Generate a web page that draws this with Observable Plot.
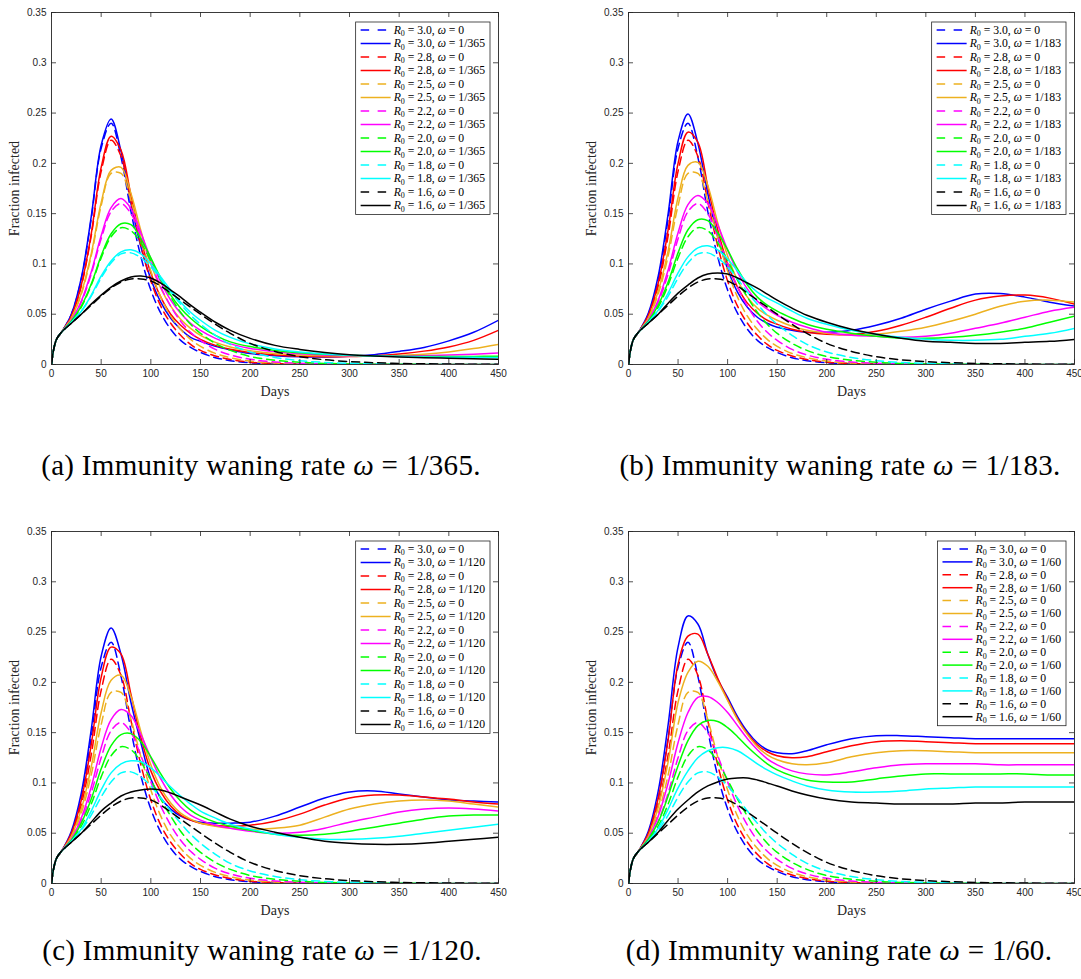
<!DOCTYPE html>
<html><head><meta charset="utf-8">
<script src="https://cdn.jsdelivr.net/npm/d3@7"></script>
<script src="https://cdn.jsdelivr.net/npm/@observablehq/plot@0.6"></script>
<style>
body{margin:0;background:#fff;}
#root{position:relative;width:1081px;height:979px;overflow:hidden;background:#fff;}
.panel{position:absolute;overflow:visible;}
.cap{position:absolute;font-family:"Liberation Serif",serif;font-size:29px;letter-spacing:0.3px;color:#000;white-space:nowrap;transform:translate(-50%,-50%);}
</style></head><body><div id="root"></div>
<script>
// ---- data ----
const days = [0,2,5,10,20,30,40,50,60,70,80,90,100,110,120,130,140,150,165,180,200,225,250,275,300,325,350,375,400,425,450];
const r0Labels = ["3.0","2.8","2.5","2.2","2.0","1.8","1.6"];
const colors = ["#0000ff","#ff0000","#edb120","#ff00ff","#00ff00","#00ffff","#000000"];
const waningLabels = ["1/365","1/183","1/120","1/60"];
const panelTags = ["(a)","(b)","(c)","(d)"];
const xTicks = [0,50,100,150,200,250,300,350,400,450];
const xTickLabels = ["0","50","100","150","200","250","300","350","400","450"];
const yTicks = [0,0.05,0.1,0.15,0.2,0.25,0.3,0.35];
const yTickLabels = ["0","0.05","0.1","0.15","0.2","0.25","0.3","0.35"];

// omega = 0 (dashed), identical in every panel
const none30 = [0,.014,.025,.032,.050,.085,.145,.215,.240,.206,.152,.107,.074,.051,.035,.024,.017,.012,.0068,.0038,.0017,.0007,.0003,.0001,0,0,0,0,0,0,0];
const none28 = [0,.014,.025,.032,.048,.078,.128,.192,.223,.207,.162,.118,.083,.058,.041,.029,.020,.014,.0085,.005,.0023,.001,.0004,.0002,.0001,0,0,0,0,0,0];
const none25 = [0,.014,.025,.032,.046,.070,.108,.158,.190,.190,.163,.126,.093,.067,.048,.035,.025,.018,.011,.0068,.0034,.0015,.0007,.0003,.0001,.0001,0,0,0,0,0];
const none22 = [0,.014,.025,.032,.044,.062,.090,.125,.152,.160,.150,.127,.101,.077,.058,.043,.032,.024,.015,.0095,.0052,.0025,.0012,.0006,.0003,.0001,.0001,0,0,0,0];
const none20 = [0,.014,.025,.032,.043,.057,.079,.106,.127,.136,.133,.121,.103,.084,.067,.052,.040,.031,.021,.014,.008,.0042,.0022,.0011,.0006,.0003,.0002,.0001,0,0,0];
const none18 = [0,.014,.025,.032,.042,.053,.068,.086,.101,.110,.111,.106,.097,.085,.072,.060,.049,.040,.029,.020,.0125,.007,.0038,.0021,.0012,.0007,.0004,.0002,.0001,0,0];
const none16 = [0,.014,.025,.032,.041,.050,.059,.068,.076,.082,.085,.085,.083,.078,.071,.064,.057,.050,.040,.031,.021,.013,.0078,.0047,.0029,.0018,.0011,.0007,.0005,.0003,.0002];

// omega = 1/365
const w365_30 = [0,.014,.025,.032,.050,.086,.147,.218,.244,.212,.160,.117,.085,.062,.046,.035,.027,.023,.018,.0145,.011,.0088,.0076,.0075,.0083,.0098,.013,.017,.0235,.032,.044];
const w365_28 = [0,.014,.025,.032,.048,.079,.130,.196,.227,.213,.168,.124,.091,.067,.050,.039,.031,.025,.019,.0152,.012,.0095,.0083,.0078,.008,.0088,.0105,.0133,.0175,.024,.034];
const w365_25 = [0,.014,.025,.032,.046,.071,.110,.161,.193,.196,.170,.133,.100,.076,.058,.045,.036,.029,.022,.0175,.0138,.011,.0094,.0086,.0082,.0083,.009,.0102,.0125,.0158,.020];
const w365_22 = [0,.014,.025,.032,.044,.063,.092,.128,.156,.165,.155,.131,.105,.082,.064,.051,.041,.034,.026,.0205,.016,.0128,.0107,.0095,.0088,.0085,.0085,.0088,.0095,.0103,.0115];
const w365_20 = [0,.014,.025,.032,.043,.058,.080,.108,.130,.140,.139,.125,.106,.086,.069,.056,.046,.038,.029,.0225,.0178,.014,.0116,.0101,.0092,.0085,.0081,.0079,.0079,.008,.0083];
const w365_18 = [0,.014,.025,.032,.042,.053,.069,.088,.103,.112,.114,.110,.100,.087,.074,.062,.052,.044,.034,.027,.0205,.0155,.0125,.0105,.0093,.0085,.0079,.0075,.0072,.0071,.007];
const w365_16 = [0,.014,.025,.032,.041,.050,.060,.069,.077,.083,.087,.088,.086,.081,.074,.067,.059,.052,.042,.034,.026,.019,.015,.012,.0098,.0085,.0075,.0068,.0062,.0057,.0053];

// omega = 1/183
const w183_30 = [0,.014,.025,.032,.051,.088,.150,.222,.249,.220,.170,.127,.095,.072,.057,.047,.041,.037,.034,.032,.032,.034,.039,.046,.055,.063,.070,.0705,.067,.062,.058];
const w183_28 = [0,.014,.025,.032,.049,.081,.134,.200,.231,.221,.177,.134,.100,.077,.061,.051,.044,.040,.035,.032,.030,.030,.033,.039,.047,.056,.064,.068,.069,.066,.060];
const w183_25 = [0,.014,.025,.032,.046,.073,.113,.166,.198,.201,.178,.141,.108,.084,.067,.056,.049,.044,.038,.034,.031,.029,.030,.033,.037,.043,.050,.058,.063,.064,.062];
const w183_22 = [0,.014,.025,.032,.044,.064,.094,.131,.159,.168,.160,.139,.114,.092,.075,.063,.055,.049,.042,.037,.032,.029,.028,.027,.028,.031,.036,.041,.047,.053,.057];
const w183_20 = [0,.014,.025,.032,.043,.059,.082,.111,.134,.144,.143,.131,.114,.095,.079,.067,.059,.053,.046,.040,.035,.031,.028,.026,.026,.027,.029,.032,.036,.042,.048];
const w183_18 = [0,.014,.025,.032,.042,.054,.071,.091,.107,.116,.118,.114,.105,.093,.081,.072,.066,.061,.053,.046,.040,.034,.030,.027,.025,.024,.024,.025,.028,.031,.036];
const w183_16 = [0,.014,.025,.032,.041,.050,.061,.071,.079,.086,.090,.091,.090,.086,.081,.076,.070,.064,.056,.049,.042,.035,.030,.026,.023,.022,.021,.021,.022,.023,.025];

// omega = 1/120
const w120_30 = [0,.014,.025,.032,.052,.090,.153,.226,.254,.228,.180,.140,.104,.085,.074,.067,.063,.061,.060,.060,.061,.067,.076,.085,.091,.092,.089,.086,.083,.082,.081];
const w120_28 = [0,.014,.025,.032,.050,.083,.138,.205,.235,.228,.188,.145,.112,.091,.077,.068,.063,.060,.058,.057,.058,.062,.069,.078,.085,.088,.088,.086,.084,.081,.079];
const w120_25 = [0,.014,.025,.032,.047,.074,.116,.170,.202,.207,.186,.151,.118,.095,.080,.070,.064,.060,.057,.055,.054,.055,.058,.066,.074,.079,.082,.083,.082,.079,.076];
const w120_22 = [0,.014,.025,.032,.044,.065,.096,.135,.163,.173,.167,.148,.125,.104,.088,.076,.068,.063,.058,.055,.052,.050,.051,.055,.061,.066,.071,.074,.075,.074,.072];
const w120_20 = [0,.014,.025,.032,.043,.060,.084,.114,.137,.148,.149,.141,.126,.109,.094,.082,.073,.067,.061,.057,.053,.049,.048,.049,.052,.056,.060,.064,.067,.068,.068];
const w120_18 = [0,.014,.025,.032,.042,.054,.072,.093,.110,.119,.122,.121,.115,.106,.096,.087,.079,.072,.065,.059,.054,.049,.046,.044,.044,.045,.047,.050,.053,.056,.059];
const w120_16 = [0,.014,.025,.032,.041,.050,.061,.072,.080,.087,.091,.093,.094,.093,.090,.086,.082,.078,.071,.064,.057,.051,.046,.042,.040,.039,.039,.040,.042,.044,.046];

// omega = 1/60
const w60_30 = [0,.014,.025,.032,.052,.092,.158,.235,.266,.258,.228,.203,.185,.166,.151,.140,.133,.130,.129,.132,.138,.144,.147,.147,.146,.145,.144,.144,.144,.144,.144];
const w60_28 = [0,.014,.025,.032,.050,.085,.143,.218,.246,.248,.228,.204,.183,.164,.149,.138,.131,.127,.125,.126,.131,.137,.141,.142,.141,.140,.139,.139,.139,.139,.139];
const w60_25 = [0,.014,.025,.032,.047,.076,.121,.180,.210,.221,.216,.201,.182,.163,.148,.136,.128,.123,.119,.118,.120,.126,.130,.132,.132,.131,.130,.130,.130,.130,.130];
const w60_22 = [0,.014,.025,.032,.045,.067,.100,.140,.170,.185,.186,.180,.170,.157,.144,.133,.124,.118,.112,.109,.108,.111,.115,.118,.119,.119,.119,.118,.118,.118,.118];
const w60_20 = [0,.014,.025,.032,.044,.061,.087,.117,.142,.157,.162,.161,.155,.146,.136,.127,.119,.113,.107,.103,.101,.101,.104,.107,.109,.109,.109,.109,.109,.108,.108];
const w60_18 = [0,.014,.025,.032,.042,.055,.074,.095,.112,.125,.132,.135,.135,.132,.126,.119,.113,.108,.102,.097,.093,.091,.091,.092,.094,.095,.096,.096,.096,.096,.096];
const w60_16 = [0,.014,.025,.032,.041,.051,.063,.074,.083,.091,.097,.101,.104,.105,.105,.103,.100,.097,.092,.088,.084,.081,.080,.079,.079,.079,.080,.080,.081,.081,.081];

const noWaning = [none30, none28, none25, none22, none20, none18, none16];
const waning = [
  [w365_30, w365_28, w365_25, w365_22, w365_20, w365_18, w365_16],
  [w183_30, w183_28, w183_25, w183_22, w183_20, w183_18, w183_16],
  [w120_30, w120_28, w120_25, w120_22, w120_20, w120_18, w120_16],
  [w60_30, w60_28, w60_25, w60_22, w60_20, w60_18, w60_16]
];

// ---- layout ----
const geom = [
  {left:0,   top:0,   width:540, height:400, mL:51, mR:42, mT:12, mB:36, capX:261, capY:465, rowH:13.5},
  {left:540, top:0,   width:541, height:400, mL:88, mR:7,  mT:12, mB:36, capX:840, capY:465, rowH:13.5},
  {left:0,   top:519, width:540, height:400, mL:51, mR:42, mT:12, mB:36, capX:262, capY:950, rowH:13.5},
  {left:540, top:519, width:541, height:400, mL:88, mR:7,  mT:12, mB:36, capX:839, capY:950, rowH:12.9}
];
const axisColor = "#262626";
const sans = "Liberation Sans, Arial, sans-serif";
const serif = "Liberation Serif, Times New Roman, serif";
const dash = "8,5";
const legendDash = "8.5,8.5";
const root = document.getElementById("root");

function makePanel(p) {
  const g = geom[p];
  const pw = g.width - g.mL - g.mR, ph = g.height - g.mT - g.mB;
  const marks = [];
  for (let i = 0; i < 7; i++) {
    marks.push(Plot.line(noWaning[i], {x: (d, j) => days[j], y: d => d, stroke: colors[i], strokeWidth: 1.5, strokeDasharray: dash, curve: "catmull-rom", clip: true}));
    marks.push(Plot.line(waning[p][i], {x: (d, j) => days[j], y: d => d, stroke: colors[i], strokeWidth: 1.5, curve: "catmull-rom", clip: true}));
  }
  marks.push(Plot.tickX(xTicks, {x: d => d, insetTop: ph - 5, stroke: axisColor, strokeWidth: 0.8}));
  marks.push(Plot.tickX(xTicks, {x: d => d, insetBottom: ph - 5, stroke: axisColor, strokeWidth: 0.8}));
  marks.push(Plot.tickY(yTicks, {y: d => d, insetRight: pw - 5, stroke: axisColor, strokeWidth: 0.8}));
  marks.push(Plot.tickY(yTicks, {y: d => d, insetLeft: pw - 5, stroke: axisColor, strokeWidth: 0.8}));
  marks.push(Plot.frame({stroke: axisColor, strokeWidth: 0.9}));
  marks.push(Plot.axisX(xTicks, {tickSize: 0, tickPadding: 5, fontSize: 10, fontFamily: sans, color: axisColor, label: null, tickFormat: (d, i) => xTickLabels[i]}));
  marks.push(Plot.axisY(yTicks, {tickSize: 0, tickPadding: 5, fontSize: 10, fontFamily: sans, color: axisColor, label: null, tickFormat: (d, i) => yTickLabels[i]}));
  marks.push(Plot.text(["Days"], {frameAnchor: "bottom", lineAnchor: "middle", textAnchor: "middle", dy: 27, fontFamily: serif, fontSize: 14, fill: axisColor}));
  marks.push(Plot.text(["Fraction infected"], {frameAnchor: "left", textAnchor: "middle", lineAnchor: "middle", dx: -37, rotate: -90, fontFamily: serif, fontSize: 14, fill: axisColor}));
  const svg = Plot.plot({
    width: g.width, height: g.height,
    marginLeft: g.mL, marginRight: g.mR, marginTop: g.mT, marginBottom: g.mB,
    x: {domain: [0, 450]},
    y: {domain: [0, 0.35]},
    style: {background: "transparent", overflow: "visible"},
    marks
  });
  svg.classList.add("panel");
  svg.style.left = g.left + "px";
  svg.style.top = g.top + "px";
  root.appendChild(svg);
  addLegend(svg, p);

  const cap = document.createElement("div");
  cap.className = "cap";
  cap.style.left = g.capX + "px";
  cap.style.top = g.capY + "px";
  cap.innerHTML = panelTags[p] + " Immunity waning rate <i>ω</i> = " + waningLabels[p] + ".";
  root.appendChild(cap);
}

function addLegend(svg, p) {
  const g = geom[p];
  const leg = d3.select(svg).append("g");
  const box = leg.append("rect").attr("fill", "#fff").attr("stroke", axisColor).attr("stroke-width", 0.8);
  const items = [];
  r0Labels.forEach((r, i) => {
    items.push({r, w: "0", color: colors[i], dashed: true});
    items.push({r, w: waningLabels[p], color: colors[i], dashed: false});
  });
  let maxW = 0;
  items.forEach((it, k) => {
    const y = 8 + k * g.rowH;
    leg.append("line").attr("x1", 5).attr("x2", 35).attr("y1", y).attr("y2", y)
      .attr("stroke", it.color).attr("stroke-width", 1.5)
      .attr("stroke-dasharray", it.dashed ? legendDash : null);
    const t = leg.append("text").attr("x", 38).attr("y", y).attr("dy", "0.33em")
      .attr("text-anchor", "start")
      .attr("font-family", serif).attr("font-size", 11.7).attr("fill", "#000");
    t.append("tspan").attr("font-style", "italic").text("R");
    t.append("tspan").attr("font-size", 8).attr("dy", 2.5).text("0");
    t.append("tspan").attr("dy", -2.5).text(" = " + it.r + ", ");
    t.append("tspan").attr("font-style", "italic").text("ω");
    t.append("tspan").text(" = " + it.w);
    maxW = Math.max(maxW, t.node().getComputedTextLength());
  });
  const bw = 38 + maxW + 5, bh = 8 + 13 * g.rowH + 9;
  box.attr("width", bw).attr("height", bh);
  const right = g.width - g.mR - 8;
  leg.attr("transform", `translate(${right - bw},${g.mT + 10})`);
}

for (let p = 0; p < 4; p++) makePanel(p);
</script>
</body></html>
